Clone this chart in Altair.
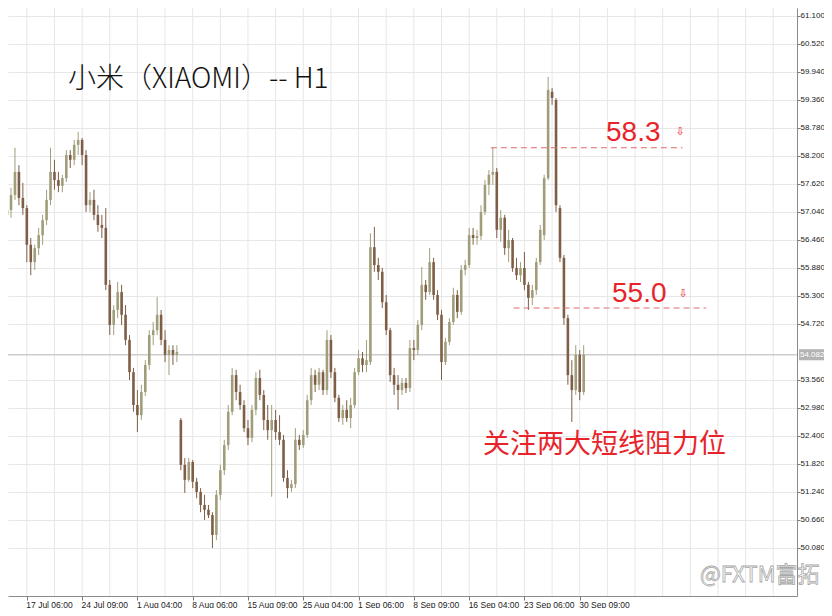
import json
import altair as alt
import pandas as pd

# ---------------- data ----------------
opens = [56.98, 57.08, 57.39, 57.87, 57.33, 57.12, 56.36, 56.00, 56.29, 56.56,
         56.87, 57.29, 57.87, 57.70, 57.58, 57.74, 58.22, 58.12, 58.43, 58.53,
         58.22, 57.18, 57.29, 56.98, 56.77, 56.71, 55.53, 54.70, 55.01, 55.38,
         54.91, 54.39, 53.72, 53.04, 52.83, 53.31, 53.87, 54.49, 54.59, 54.91,
         54.39, 54.08, 54.18, 54.08, 52.73, 51.80, 51.49, 51.86, 51.45, 51.24,
         50.97, 50.87, 50.76, 50.35, 51.18, 51.69, 52.21, 52.90, 53.66, 53.31,
         53.04, 52.56, 52.36, 52.94, 53.60, 53.25, 52.73, 52.52, 52.73, 52.48,
         52.32, 51.53, 51.32, 51.40, 52.32, 52.21, 52.42, 53.14, 53.66, 53.46,
         53.72, 53.35, 54.39, 53.72, 53.19, 52.77, 52.94, 52.77, 53.04, 53.72,
         54.01, 53.87, 53.93, 56.31, 55.94, 55.80, 55.17, 54.59, 53.66, 53.46,
         53.35, 53.50, 53.39, 54.22, 54.18, 54.70, 55.53, 55.38, 56.00, 55.32,
         54.91, 53.93, 54.35, 54.76, 55.32, 54.97, 55.84, 55.94, 56.56, 56.50,
         56.54, 57.04, 57.60, 57.81, 57.87, 56.67, 56.92, 56.29, 56.46, 55.88,
         55.73, 55.88, 55.53, 55.26, 55.42, 56.00, 56.56, 57.74, 59.53, 59.36,
         57.12, 56.09, 54.84, 53.66, 53.35, 54.08, 53.31]
highs = [57.18, 57.54, 58.37, 58.01, 57.64, 57.18, 56.50, 56.36, 56.71, 56.98,
         57.50, 58.37, 58.12, 57.87, 57.81, 58.32, 58.32, 58.53, 58.70, 58.57,
         58.32, 57.45, 57.50, 57.18, 56.98, 57.12, 55.63, 55.11, 55.59, 55.53,
         55.11, 54.49, 53.81, 53.35, 53.46, 53.97, 54.59, 54.76, 55.28, 55.01,
         54.59, 54.28, 54.28, 54.28, 52.77, 51.94, 51.94, 51.90, 51.53, 51.32,
         51.18, 50.97, 50.82, 51.28, 51.80, 52.32, 53.04, 53.81, 53.77, 53.46,
         53.14, 52.73, 53.04, 53.72, 53.77, 53.35, 53.04, 53.04, 52.94, 52.83,
         52.42, 51.69, 51.49, 52.56, 52.42, 52.52, 53.25, 53.81, 53.77, 53.81,
         53.77, 54.59, 54.49, 53.81, 53.25, 53.04, 53.14, 53.19, 53.81, 54.18,
         54.14, 54.39, 56.60, 56.73, 56.09, 55.88, 55.32, 54.64, 53.81, 53.66,
         53.60, 53.60, 54.39, 54.39, 54.80, 55.90, 55.63, 56.29, 56.09, 55.42,
         55.01, 54.43, 54.84, 55.47, 55.42, 55.94, 56.05, 56.71, 56.71, 56.67,
         57.18, 57.70, 57.91, 58.37, 57.95, 57.08, 56.98, 56.67, 56.50, 56.09,
         56.00, 56.21, 55.59, 55.53, 56.09, 56.77, 57.81, 59.84, 59.61, 59.40,
         57.18, 56.15, 54.91, 53.97, 54.28, 54.18, 54.28]
lows = [56.56, 56.92, 57.29, 57.18, 56.98, 56.00, 55.73, 55.84, 56.15, 56.36,
        56.77, 57.18, 57.50, 57.45, 57.45, 57.66, 57.95, 58.01, 58.22, 58.01,
        57.04, 57.04, 56.87, 56.63, 56.50, 55.42, 54.49, 54.49, 54.84, 54.70,
        54.28, 53.56, 52.90, 52.48, 52.73, 53.23, 53.77, 54.28, 54.49, 54.28,
        53.93, 53.66, 53.87, 53.93, 51.69, 51.22, 51.45, 51.32, 51.11, 50.82,
        50.66, 50.70, 50.08, 50.24, 51.07, 51.59, 52.11, 52.83, 53.14, 52.94,
        52.48, 52.21, 52.27, 52.83, 53.14, 52.52, 52.32, 51.14, 52.32, 52.21,
        51.45, 51.11, 51.24, 51.32, 52.11, 52.15, 52.36, 53.04, 53.31, 53.35,
        53.25, 53.25, 53.60, 53.10, 52.69, 52.63, 52.69, 52.56, 52.98, 53.66,
        53.72, 53.72, 53.87, 55.80, 55.63, 55.05, 54.49, 53.52, 53.25, 52.94,
        53.25, 53.29, 53.31, 53.97, 54.08, 54.59, 55.22, 55.32, 55.22, 54.80,
        53.56, 53.87, 54.28, 54.70, 54.84, 54.91, 55.73, 55.88, 56.36, 56.36,
        56.46, 56.98, 57.39, 57.60, 56.50, 56.42, 56.15, 56.00, 55.80, 55.63,
        55.59, 55.42, 55.01, 55.11, 55.32, 55.94, 56.46, 57.70, 59.26, 57.04,
        56.00, 54.70, 53.46, 52.69, 53.25, 53.14, 53.25]
closes = [57.08, 57.39, 57.87, 57.33, 57.12, 56.36, 56.00, 56.29, 56.56, 56.87,
          57.29, 57.87, 57.70, 57.58, 57.74, 58.22, 58.12, 58.43, 58.53, 58.22,
          57.18, 57.29, 56.98, 56.77, 56.71, 55.53, 54.70, 55.01, 55.38, 54.91,
          54.39, 53.72, 53.04, 52.83, 53.31, 53.87, 54.49, 54.59, 54.91, 54.39,
          54.08, 54.18, 54.08, 54.14, 51.80, 51.49, 51.86, 51.45, 51.24, 50.97,
          50.87, 50.76, 50.35, 51.18, 51.69, 52.21, 52.90, 53.66, 53.31, 53.04,
          52.56, 52.36, 52.94, 53.60, 53.25, 52.73, 52.52, 52.73, 52.48, 52.32,
          51.53, 51.32, 51.40, 52.32, 52.21, 52.42, 53.14, 53.66, 53.46, 53.72,
          53.35, 54.39, 53.72, 53.19, 52.77, 52.94, 52.77, 53.04, 53.72, 54.01,
          53.87, 53.97, 56.31, 55.94, 55.80, 55.17, 54.59, 53.66, 53.46, 53.35,
          53.50, 53.39, 54.22, 54.18, 54.70, 55.53, 55.38, 56.00, 55.32, 54.91,
          53.93, 54.35, 54.76, 55.32, 54.97, 55.84, 55.94, 56.56, 56.50, 56.54,
          57.04, 57.60, 57.81, 57.87, 56.67, 56.92, 56.29, 56.46, 55.88, 55.73,
          55.88, 55.53, 55.26, 55.42, 56.00, 56.67, 57.74, 59.57, 59.40, 57.18,
          56.09, 54.84, 53.66, 53.35, 54.08, 53.31, 54.08]
bar_index = list(range(len(opens)))

x_label_index = [5, 19, 33, 47, 61, 75, 89, 103, 117, 131, 145]
x_labels = ["17 Jul 06:00", "24 Jul 09:00", "1 Aug 04:00", "8 Aug 06:00",
            "15 Aug 09:00", "25 Aug 04:00", "1 Sep 06:00", "8 Sep 09:00",
            "16 Sep 04:00", "23 Sep 06:00", "30 Sep 09:00"]
grid_index = [5, 12, 19, 26, 33, 40, 47, 54, 61, 68, 75, 82, 89, 96, 103, 110,
              117, 124, 131, 138, 145, 152, 159, 166, 173, 180, 187, 194]
y_ticks = [50.08, 50.66, 51.24, 51.82, 52.40, 52.98, 53.56, 54.72, 55.30,
           55.88, 56.46, 57.04, 57.62, 58.20, 58.78, 59.36, 59.94, 60.52, 61.10]
last_price = [54.082]
last_label = ["54.082"]
level_price = [58.37, 55.05]
level_from = [122.5, 128.25]
level_to = [171, 177]

title_text = "小米（XIAOMI）-- H1"
note_text = "关注两大短线阻力位"
level_text = ["58.3", "55.0"]
watermark = "@FXTM富拓"

# ---------------- chart ----------------
W, H = 789, 588
xs = alt.Scale(domain=[1.5, 198.75], nice=False, zero=False)
ys = alt.Scale(domain=[49.084, 61.265], nice=False, zero=False)

UP = "#a09e7a"
DOWN = "#7e5e46"
RED = "#e8242b"

df = pd.DataFrame({"i": bar_index, "o": opens, "h": highs, "l": lows, "c": closes})
col = alt.condition("datum.c >= datum.o", alt.value(UP), alt.value(DOWN))

label_expr = "indexof(%s, datum.value) >= 0 ? %s[indexof(%s, datum.value)] : ''" % (
    json.dumps(x_label_index), json.dumps(x_labels), json.dumps(x_label_index))

x_axis = alt.Axis(values=x_label_index, labelExpr=label_expr, grid=False, title=None,
                  orient="bottom", tickSize=4, tickColor="#777777", domainColor="#8a8a8a",
                  labelAlign="left", labelBaseline="top", labelPadding=0, labelOffset=-1,
                  labelFontSize=8.5, labelFont="Liberation Sans", labelColor="#222222",
                  labelFlush=False, labelOverlap=False)
y_axis = alt.Axis(orient="right", values=y_ticks, format=".3f", title=None,
                  grid=True, gridColor="#e7e7e7", tickSize=3, tickColor="#777777",
                  domainColor="#8a8a8a", labelPadding=0, labelFontSize=8,
                  labelFont="Liberation Sans", labelColor="#222222",
                  labelOverlap=False, labelFlush=False)

vgrid = alt.Chart(pd.DataFrame({"g": grid_index})).mark_rule(
    color="#e7e7e7", strokeWidth=1).encode(x=alt.X("g:Q", scale=xs, axis=x_axis))

price_rule = alt.Chart(pd.DataFrame({"p": last_price})).mark_rule(
    color="#cdcdcd", strokeWidth=1.5).encode(y=alt.Y("p:Q", scale=ys, axis=y_axis))

wicks = alt.Chart(df).mark_rule(strokeWidth=1, clip=True).encode(
    x=alt.X("i:Q", scale=xs, axis=x_axis),
    y=alt.Y("l:Q", scale=ys, axis=y_axis),
    y2="h:Q",
    color=col,
)
bodies = alt.Chart(df).mark_bar(size=2.6, clip=True).encode(
    x=alt.X("i:Q", scale=xs, axis=x_axis),
    y=alt.Y("o:Q", scale=ys, axis=y_axis),
    y2="c:Q",
    color=col,
)

levels = alt.Chart(pd.DataFrame({"p": level_price, "a": level_from, "b": level_to})).mark_rule(
    color="#e06a6a", strokeWidth=1, strokeDash=[6, 4]).encode(
    x=alt.X("a:Q", scale=xs, axis=x_axis), x2="b:Q",
    y=alt.Y("p:Q", scale=ys, axis=y_axis))


def txt(t, x, y, **kw):
    return alt.Chart(pd.DataFrame({"t": [t]})).mark_text(**kw).encode(
        text="t:N", x=alt.value(x), y=alt.value(y))


title = txt(title_text, 60, 72, align="left", baseline="middle", fontSize=28,
            font="Noto Sans CJK SC", fontWeight=300, color="#111111")
lvl1 = txt(level_text[0], 598, 133, align="left", baseline="alphabetic", fontSize=28,
           font="Liberation Sans", color=RED)
lvl2 = txt(level_text[1], 604, 294, align="left", baseline="alphabetic", fontSize=28,
           font="Liberation Sans", color=RED)
arr1 = txt("⇩", 672, 124, align="center", baseline="middle", fontSize=11,
           font="DejaVu Sans", color=RED)
arr2 = txt("⇩", 675, 286, align="center", baseline="middle", fontSize=11,
           font="DejaVu Sans", color=RED)
note = txt(note_text, 475, 437, align="left", baseline="middle", fontSize=27,
           font="Noto Sans CJK SC", color=RED)
wm = txt(watermark, 692, 567, align="left", baseline="middle", fontSize=22,
         font="Noto Sans CJK SC", color="#ffffff", stroke="#a8a8a8", strokeWidth=0.8)

box = alt.Chart(pd.DataFrame({"p": last_price, "t": last_label})).mark_point(
    shape="M-1,-0.41L1,-0.41L1,0.41L-1,0.41Z", size=729, filled=True,
    color="#b3b3b3", opacity=1).encode(
    x=alt.value(804.5), y=alt.Y("p:Q", scale=ys, axis=y_axis))
box_txt = alt.Chart(pd.DataFrame({"p": last_price, "t": last_label})).mark_text(
    align="left", baseline="middle", fontSize=8, font="Liberation Sans",
    color="#ffffff").encode(
    x=alt.value(792), y=alt.Y("p:Q", scale=ys, axis=y_axis), text="t:N")

chart = alt.layer(
    vgrid, price_rule, wicks, bodies, levels,
    title, lvl1, arr1, lvl2, arr2, note, wm, box, box_txt,
).properties(
    width=W, height=H,
    autosize=alt.AutoSizeParams(type="none"),
    padding={"left": 0, "top": 0, "right": 27, "bottom": 12},
    background="#ffffff",
).configure_view(strokeWidth=0)

chart.save("out.html", embed_options={"renderer": "svg", "actions": False})
